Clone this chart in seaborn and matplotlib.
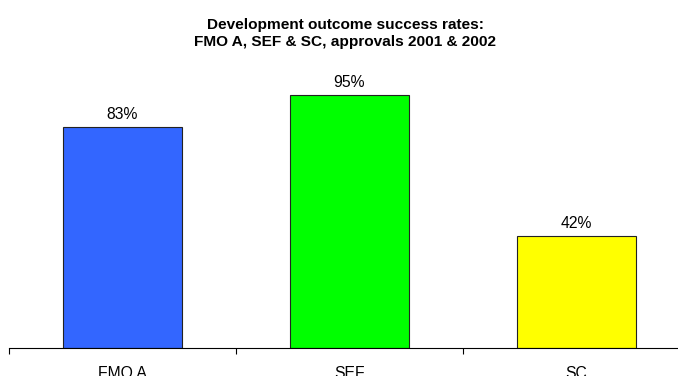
import numpy as np
import pandas as pd
import seaborn as sns
from matplotlib import pyplot as plt

# chart data
categories = ["FMO A", "SEF", "SC"]
success_rates = [83, 95, 42]
bar_colors = ["#3366FF", "#00FF00", "#FFFF00"]

sns.set_style("white")
plt.rcParams['font.family'] = ['Liberation Sans', 'DejaVu Sans']
plt.rcParams['text.color'] = 'black'
plt.rcParams['xtick.color'] = 'black'

df = pd.DataFrame({"category": categories, "rate": success_rates})

fig = plt.figure(figsize=(6.78, 3.76), dpi=100)
ax = fig.add_axes([9 / 678, 28 / 376, 681 / 678, 266 / 376])

sns.barplot(data=df, x="category", y="rate", hue="category", palette=bar_colors,
            legend=False, width=0.525, edgecolor="#222222", linewidth=0.8,
            saturation=1, ax=ax)

for i, v in enumerate(success_rates):
    ax.text(i, v + 3, f"{v}%", ha="center", va="baseline", fontsize=11.3, color="black")

ax.set_xlim(-0.5, 2.5)
ax.set_ylim(0, 100)
ax.set_xlabel("")
ax.set_ylabel("")
ax.set_yticks([])
for s in ["top", "right", "left"]:
    ax.spines[s].set_visible(False)
ax.spines["bottom"].set_color("black")
ax.spines["bottom"].set_linewidth(0.8)

# major ticks carry labels, minor ticks mark category boundaries
ax.tick_params(axis="x", which="major", length=0, labelsize=11.3, pad=13,
               labelcolor="black")
ax.set_xticks([-0.5, 0.5, 1.5, 2.5], minor=True)
ax.tick_params(axis="x", which="minor", length=4, width=0.8, color="black",
               direction="out", bottom=True)

fig.text(0.509, 0.952, "Development outcome success rates:\nFMO A, SEF & SC, approvals 2001 & 2002",
         ha="center", va="top", fontsize=11.1, fontweight="bold", linespacing=1.3,
         color="black")

fig.savefig("out.png", dpi=100)
